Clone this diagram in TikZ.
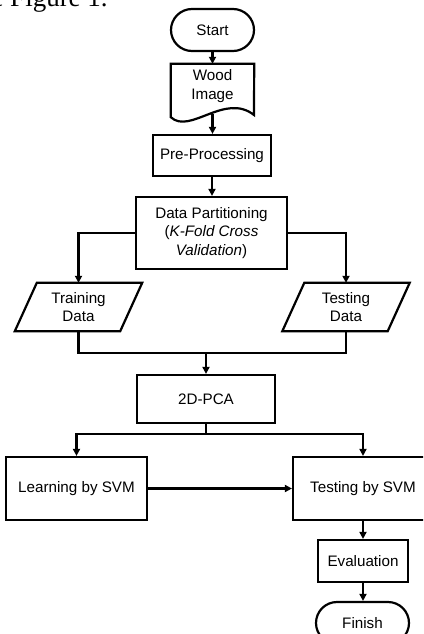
\documentclass[tikz,border=0pt]{standalone}
\usepackage{fontspec}
\setmainfont{Liberation Sans}
\newfontfamily\figserif{Liberation Serif}
\usetikzlibrary{arrows.meta,shapes.misc}
\begin{document}
\begin{tikzpicture}[x=1pt,y=-1pt,
  every node/.style={font=\fontsize{15.2}{18.4}\selectfont, align=center, inner sep=0pt},
  lw/.style={line width=2.2pt},
  conn/.style={lw},
  arr/.style={lw, -{Triangle[length=7pt,width=7pt]}},
  procbox/.style={draw, lw, rectangle},
  termbox/.style={draw, lw, rounded rectangle},
  shapebox/.style={rectangle}]
\useasboundingbox (0,0) rectangle (423,634);
\clip (0,0) rectangle (423,634);

\node[font=\figserif\fontsize{27}{30}\selectfont, anchor=base west] (figcap) at (-8.7,6.5) {e Figure 1.};

\node[termbox, minimum width=83pt, minimum height=42pt] (start) at (212.5,30) {Start};

\node[shapebox, minimum width=83pt, minimum height=53pt] (wood) at (212.5,90.5) {};
\node (woodlbl) at ([yshift=4.5pt]wood.center) {Wood\\Image};
\draw[lw, line join=miter] (wood.south west) -- (wood.north west) -- (wood.north east) -- (254,115)
  .. controls (225,92) and (190,135) .. (wood.south west) -- cycle;
\coordinate (woodb) at (212.5,113.5);

\node[procbox, minimum width=118pt, minimum height=41pt] (pre) at (212,155.5) {Pre-Processing};
\node[procbox, minimum width=151pt, minimum height=72pt] (dp) at (211.5,233)
  {Data Partitioning\\(\textit{K-Fold Cross}\\\textit{Validation})};

\node[shapebox, minimum width=105pt, minimum height=48pt] (train) at (78.5,307) {Training\\Data};
\draw[lw] ([xshift=11pt]train.north west) -- ([xshift=11pt]train.north east)
  -- ([xshift=-11pt]train.south east) -- ([xshift=-11pt]train.south west) -- cycle;
\node[shapebox, minimum width=105pt, minimum height=48pt] (test) at (346,307) {Testing\\Data};
\draw[lw] ([xshift=11pt]test.north west) -- ([xshift=11pt]test.north east)
  -- ([xshift=-11pt]test.south east) -- ([xshift=-11pt]test.south west) -- cycle;

\node[procbox, minimum width=138pt, minimum height=48pt] (pca) at (206,399) {2D-PCA};
\node[procbox, minimum width=141pt, minimum height=63pt] (learn) at (76.5,488.5) {Learning by SVM};
\node[procbox, minimum width=140pt, minimum height=63pt] (tsvm) at (363,488.5) {Testing by SVM};
\node[procbox, minimum width=90pt, minimum height=42pt] (eval) at (363,561) {Evaluation};
\node[termbox, minimum width=93pt, minimum height=42pt] (fin) at (362.5,623) {Finish};

\coordinate (jn) at (206,353);
\coordinate (sp) at (206,434);

\draw[arr] (start.south) -- (wood.north);
\draw[arr] (woodb) -- (woodb |- pre.north);
\draw[arr] (pre.south) -- (pre.south |- dp.north);
\draw[arr] (dp.west) -| (train.north);
\draw[arr] (dp.east) -| (test.north);
\draw[conn] (train.south) |- (jn);
\draw[conn] (test.south) |- (jn);
\draw[arr] (jn) -- (pca.north);
\draw[conn] (pca.south) -- (sp);
\draw[arr] (sp) -| (learn.north);
\draw[arr] (sp) -| (tsvm.north);
\draw[arr] (learn.east) -- (tsvm.west);
\draw[arr] (tsvm.south) -- (eval.north);
\draw[arr] (eval.south) -- (eval.south |- fin.north);
\end{tikzpicture}
\end{document}
